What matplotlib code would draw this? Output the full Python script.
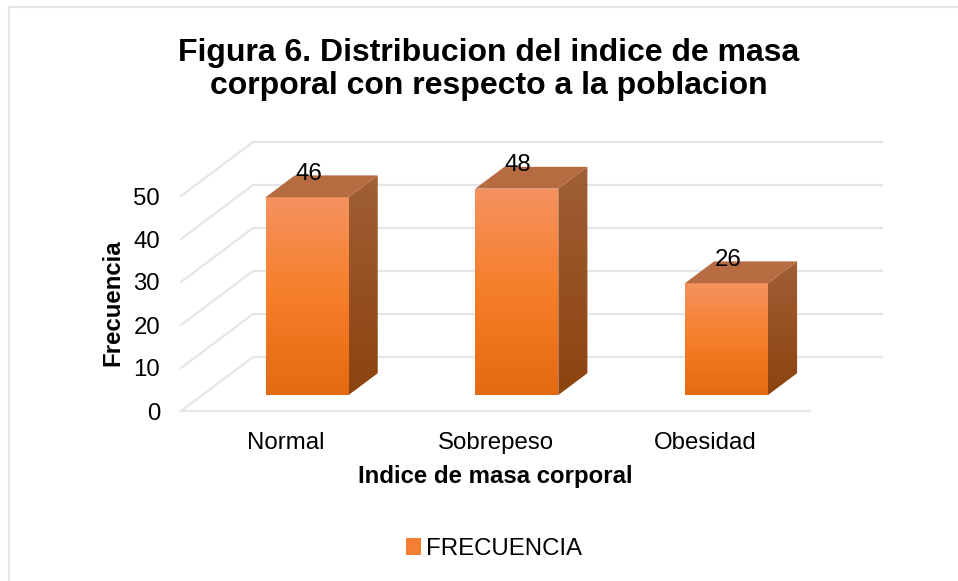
"""Figura 6: frequency by body mass index, drawn as pseudo 3D bars."""
import matplotlib
matplotlib.use("Agg")
import matplotlib.pyplot as plt
import numpy as np
from matplotlib.colors import LinearSegmentedColormap
from matplotlib.lines import Line2D
from matplotlib.patches import Patch, Polygon

plt.rcParams['font.family'] = ['Liberation Sans', 'DejaVu Sans']

categories = ["Normal", "Sobrepeso", "Obesidad"]
frecuencia = [46, 48, 26]
y_ticks = [0, 10, 20, 30, 40, 50]

W, H = 958, 581
# plot area in pixels
LEFT, RIGHT_FRONT, FLOOR_Y = 181, 810, 411
DEPTH_X, DEPTH_Y = 72, 54
PX_PER_UNIT = 4.3
PX_PER_CAT = (RIGHT_FRONT - LEFT) / len(categories)
BAR_WIDTH = 83 / PX_PER_CAT
Z_FRONT, Z_BACK = 0.296, 0.70

front_cmap = LinearSegmentedColormap.from_list(
    "front", ["#F69260", "#F57E28", "#E46A12"])
side_cmap = LinearSegmentedColormap.from_list("side", ["#A05F36", "#8C430E"])
top_color = "#B76B40"
grid_color = "#E3E6EB"


def project(x, v, z):
    """Moves a point on the front plane back by depth z (0 to 1)."""
    return x + z * DEPTH_X / PX_PER_CAT, v + z * DEPTH_Y / PX_PER_UNIT


def gradient_poly(ax, pts, cmap, zorder):
    """Fills a polygon with a vertical gradient."""
    poly = Polygon(pts, closed=True, facecolor="none", edgecolor="none", zorder=zorder)
    ax.add_patch(poly)
    xs, ys = zip(*pts)
    img = ax.imshow(np.linspace(0, 1, 256).reshape(-1, 1), cmap=cmap, aspect="auto",
                    origin="upper", extent=(min(xs), max(xs), min(ys), max(ys)),
                    zorder=zorder)
    img.set_clip_path(poly)


fig = plt.figure(figsize=(W / 100, H / 100), dpi=100)
# chart frame, only top and left edges fall inside the crop
fig.add_artist(Line2D([9 / W, 9 / W, 1], [0, 1 - 7 / H, 1 - 7 / H], transform=fig.transFigure,
                      color="#E3E6EB", lw=1.5))
ax = fig.add_axes([LEFT / W, (H - FLOOR_Y) / H,
                   (RIGHT_FRONT + DEPTH_X - LEFT) / W, (DEPTH_Y + 50 * PX_PER_UNIT) / H])
ax.patch.set_visible(False)
for spine in ax.spines.values():
    spine.set_visible(False)

# walls and floor grid
x0, x1 = -0.5, len(categories) - 0.5
for t in y_ticks:
    bx0, bv = project(x0, t, 1)
    bx1, _ = project(x1, t, 1)
    ax.plot([x0, bx0, bx1], [t, bv, bv], color=grid_color, lw=1.6, zorder=1, clip_on=False)
ax.plot([x0, x1], [0, 0], color=grid_color, lw=1.6, zorder=1, clip_on=False)

# bars
for i, val in enumerate(frecuencia):
    xl, xr = i - BAR_WIDTH / 2, i + BAR_WIDTH / 2
    fl = project(xl, 0, Z_FRONT)
    fr = project(xr, 0, Z_FRONT)
    tl = project(xl, val, Z_FRONT)
    tr = project(xr, val, Z_FRONT)
    br = project(xr, 0, Z_BACK)
    ttr = project(xr, val, Z_BACK)
    ttl = project(xl, val, Z_BACK)
    gradient_poly(ax, [fl, fr, tr, tl], front_cmap, 3)
    gradient_poly(ax, [fr, br, ttr, tr], side_cmap, 3)
    ax.add_patch(Polygon([tl, tr, ttr, ttl], closed=True, facecolor=top_color,
                         edgecolor="none", zorder=3))
    # data label sits over the back edge of the top face
    lx, _ = project(i, val, Z_FRONT)
    _, ly = project(i, val, Z_BACK)
    ax.annotate(str(val), (lx, ly), xytext=(1, 1.3), textcoords="offset points",
                ha="center", va="center", fontsize=17.3, color="black", zorder=5)

ax.set_xlim(-0.5, len(categories) - 0.5 + DEPTH_X / PX_PER_CAT)
ax.set_ylim(0, 50 + DEPTH_Y / PX_PER_UNIT)

ax.set_xticks(range(len(categories)), categories, fontsize=17.3)
ax.set_yticks(y_ticks, [str(t) for t in y_ticks], fontsize=17.3)
ax.tick_params(length=0)
ax.tick_params(axis="x", pad=15)
ax.tick_params(axis="y", pad=15)

fig.text(489 / W, 1 - 69.5 / H, "Figura 6. Distribucion del indice de masa\ncorporal con respecto a la poblacion",
         ha="center", va="center", fontsize=23.05, fontweight="bold", linespacing=1.17)
fig.text(495 / W, 1 - 477 / H, "Indice de masa corporal", ha="center", va="center",
         fontsize=17.3, fontweight="bold")
fig.text(113 / W, 1 - 303 / H, "Frecuencia", ha="center", va="center", rotation=90,
         fontsize=17.3, fontweight="bold")

fig.legend(handles=[Patch(facecolor="#F47F32", label="FRECUENCIA")], loc="center",
           bbox_to_anchor=(494 / W, 1 - 549 / H), frameon=False, fontsize=17.3,
           handlelength=0.62, handleheight=0.72, handletextpad=0.2)

fig.savefig("out.png", dpi=100)
